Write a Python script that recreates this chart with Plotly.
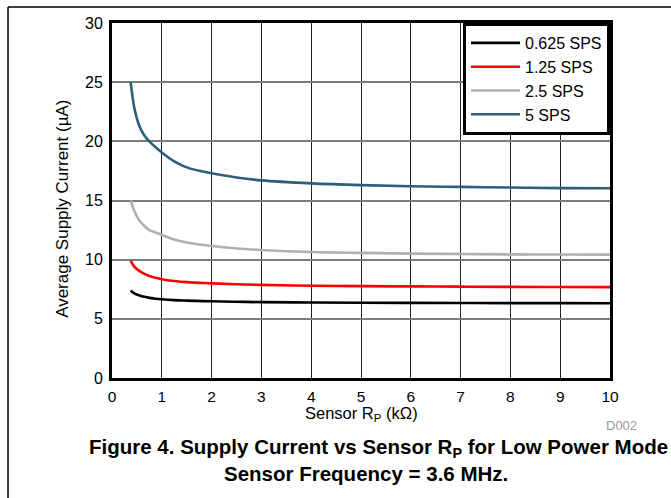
import plotly.graph_objects as go

rp_kohm = [0.375, 0.45, 0.55, 0.65, 0.75, 0.875, 1.0, 1.25, 1.5, 2, 2.5, 3, 4, 5, 6, 7, 8, 9, 10]
sps_0625 = [7.4, 7.15, 6.98, 6.86, 6.77, 6.7, 6.65, 6.58, 6.54, 6.48, 6.44, 6.41, 6.38, 6.36, 6.35, 6.34, 6.33, 6.33, 6.32]
sps_125 = [9.9, 9.4, 9.05, 8.8, 8.62, 8.47, 8.35, 8.2, 8.1, 8.0, 7.92, 7.87, 7.8, 7.76, 7.74, 7.72, 7.7, 7.69, 7.68]
sps_25 = [15.0, 14.1, 13.3, 12.85, 12.5, 12.3, 12.1, 11.7, 11.45, 11.15, 10.95, 10.82, 10.65, 10.57, 10.51, 10.48, 10.45, 10.44, 10.43]
sps_5 = [25.0, 22.8, 21.3, 20.5, 20.0, 19.5, 19.05, 18.3, 17.8, 17.3, 16.95, 16.7, 16.45, 16.3, 16.2, 16.15, 16.1, 16.05, 16.03]

series_names = ["0.625 SPS", "1.25 SPS", "2.5 SPS", "5 SPS"]
series_values = [sps_0625, sps_125, sps_25, sps_5]
series_colors = ["#000000", "#FF0000", "#B0B0B0", "#2C5F78"]

x_ticks = [0, 1, 2, 3, 4, 5, 6, 7, 8, 9, 10]
y_ticks = [0, 5, 10, 15, 20, 25, 30]

FONT = "Liberation Sans, Arial, sans-serif"

fig = go.Figure()
for name, vals, col in zip(series_names, series_values, series_colors):
    fig.add_trace(go.Scatter(x=rp_kohm, y=vals, mode="lines", name=name,
                             line=dict(color=col, width=2.6, shape="spline")))

fig.update_layout(
    width=671, height=498,
    margin=dict(l=112, r=61, t=23, b=120),
    paper_bgcolor="white", plot_bgcolor="white",
    font=dict(family=FONT, size=16, color="black"),
    showlegend=True,
    legend=dict(x=1, xanchor="right", y=1, yanchor="top",
                bgcolor="white", bordercolor="black", borderwidth=3,
                font=dict(family=FONT, size=16, color="black"),
                tracegroupgap=0, itemwidth=49),
    xaxis=dict(range=[0, 10], tickvals=x_ticks, ticktext=[str(v) for v in x_ticks],
               showgrid=True, gridcolor="#222222", gridwidth=1,
               showline=True, linecolor="black", linewidth=3, mirror=True,
               ticks="", zeroline=False, tickfont=dict(size=15.5), ticklabelstandoff=2),
    yaxis=dict(range=[0, 30], tickvals=y_ticks, ticktext=[str(v) for v in y_ticks],
               showgrid=True, gridcolor="#7a7a7a", gridwidth=1.5,
               showline=True, linecolor="black", linewidth=3, mirror=True,
               ticks="", zeroline=False, tickfont=dict(size=16), ticklabelstandoff=3),
    shapes=[
        dict(type="line", xref="paper", yref="paper", x0=-0.2088, x1=1.13, y0=1.045, y1=1.045,
             line=dict(color="black", width=1.5)),
        dict(type="line", xref="paper", yref="paper", x0=-0.2088, x1=-0.2088, y0=1.045, y1=-0.36,
             line=dict(color="black", width=1.5)),
    ],
    annotations=[
        dict(text="Average Supply Current (\u00b5A)", xref="paper", yref="paper",
             x=-0.1, y=0.477, textangle=-90, showarrow=False,
             xanchor="center", yanchor="middle", font=dict(size=17)),
        dict(text="Sensor R<sub>P</sub> (k\u03a9)", xref="paper", yref="paper",
             x=0.5, y=-0.102, showarrow=False, xanchor="center", yanchor="middle",
             font=dict(size=16.5)),
        dict(text="D002", xref="paper", yref="paper", x=1.024, y=-0.135,
             showarrow=False, xanchor="center", yanchor="middle",
             font=dict(size=13, color="#999999")),
        dict(text="<b>Figure 4. Supply Current vs Sensor R<sub>P</sub> for Low Power Mode</b>",
             xref="paper", yref="paper", x=0.536, y=-0.197, showarrow=False,
             xanchor="center", yanchor="middle", font=dict(size=20.5)),
        dict(text="<b>Sensor Frequency = 3.6 MHz.</b>",
             xref="paper", yref="paper", x=0.511, y=-0.27, showarrow=False,
             xanchor="center", yanchor="middle", font=dict(size=20.5)),
    ],
)

fig.write_html("out.html", config={"displayModeBar": False},
               post_script="document.body.style.margin='0';document.body.style.overflow='hidden';")
